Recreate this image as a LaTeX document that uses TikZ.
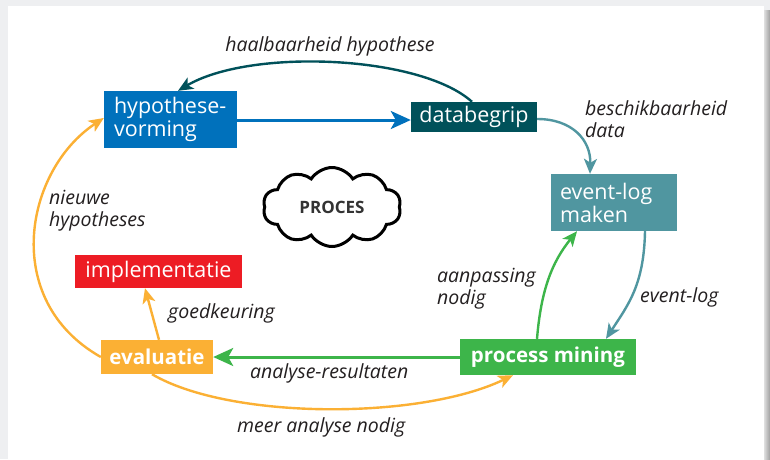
\documentclass[tikz,border=0pt]{standalone}
\usepackage{fontspec}
\setmainfont{Open Sans}
\usetikzlibrary{arrows.meta,shapes.symbols}
\definecolor{bggray}{HTML}{EEEFF1}
\definecolor{cblue}{HTML}{0071BC}
\definecolor{cdteal}{HTML}{00515A}
\definecolor{cteal}{HTML}{5096A0}
\definecolor{cred}{HTML}{ED1C24}
\definecolor{corange}{HTML}{FBB034}
\definecolor{cgreen}{HTML}{3DB54A}
\definecolor{ctext}{HTML}{231F20}
\tikzset{
  box/.style={fill=#1, text=white, inner sep=0pt, font=\fontsize{21.5}{23}\selectfont},
  bbox/.style={fill=#1, text=white, inner sep=0pt, font=\fontsize{20.5}{23}\selectfont\bfseries},
  lbl/.style={text=ctext, inner sep=0pt, font=\fontsize{19.5}{22}\selectfont\itshape, align=left},
  arr/.style={draw=#1, line width=2.4pt, -{Stealth[length=15pt,width=13pt,inset=4pt]}},
}
\begin{document}
\begin{tikzpicture}[x=1pt,y=-1pt]
\fill[bggray] (0,0) rectangle (770,459);
\fill[white] (8,6) rectangle (764,459);
\shade[left color=gray!25, right color=gray!75] (764,10) rectangle (770,459);
\useasboundingbox (0,0) rectangle (770,459);

\node[box=cblue, minimum width=133pt, minimum height=57pt, text width=113pt, align=left] (hv) at (170.5,119.5) {hypothese-\\vorming};
\node[box=cdteal, minimum width=126pt, minimum height=30pt] (db) at (474,117) {databegrip};
\node[box=cteal, minimum width=126pt, minimum height=57pt, text width=108pt, align=left] (el) at (614,202.5) {event-log\\maken};
\node[box=cred, minimum width=167pt, minimum height=33pt] (im) at (158.5,271.5) {implementatie};
\node[bbox=corange, minimum width=112pt, minimum height=34pt] (ev) at (157,357) {evaluatie};
\node[bbox=cgreen, minimum width=176pt, minimum height=36pt] (pm) at (548,357) {process mining};

\node[cloud, cloud puffs=10, cloud puff arc=115, aspect=1.75, draw=black, line width=3pt, fill=white,
  minimum width=138pt, minimum height=79pt, inner sep=0pt, font=\fontsize{17}{19}\selectfont\bfseries, text=black!80] (pr) at (332,207) {PROCES};

% connectors
\draw[arr=cdteal] (db.north -| 472,0) .. controls (420,55) and (250,48) .. (hv.north -| 178,0);
\draw[arr=cblue, line width=3pt, -{Stealth[length=20pt,width=18pt,inset=5pt]}] (hv.east |- 0,120) -- (db.west |- 0,120);
\draw[arr=cteal] (db.east |- 0,119) .. controls (572,119) and (591,140) .. (el.north -| 590,0);
\draw[arr=cteal] (el.south -| 645,0) .. controls (644,285) and (628,305) .. (pm.north -| 606,0);
\draw[arr=cgreen] (pm.north -| 537,0) .. controls (541,290) and (552,262) .. (el.south -| 577,0);
\draw[arr=cgreen, line width=3pt, -{Stealth[length=20pt,width=18pt,inset=5pt]}] (pm.west) -- (ev.east);
\draw[arr=corange] (ev.north -| 159,0) -- (im.south -| 145,0);
\draw[arr=corange] (ev.west) .. controls (0,300) and (25,170) .. (hv.west |- 0,118);
\draw[arr=corange] (ev.south -| 152,0) .. controls (230,420) and (420,420) .. (pm.south -| 513,0);

% labels
\node[lbl] (l1) at (330,46) {haalbaarheid hypothese};
\node[lbl, anchor=north west] (l2) at (585,100) {beschikbaarheid\\data};
\node[lbl, anchor=west] (l3) at (640,297) {event-log};
\node[lbl, anchor=north west] (l4) at (437,268) {aanpassing\\nodig};
\node[lbl, anchor=north west] (l5) at (49,190) {nieuwe\\hypotheses};
\node[lbl, anchor=west] (l6) at (168,313) {goedkeuring};
\node[lbl, anchor=west] (l7) at (250,373) {analyse-resultaten};
\node[lbl, anchor=west] (l8) at (237,427) {meer analyse nodig};
\end{tikzpicture}
\end{document}
